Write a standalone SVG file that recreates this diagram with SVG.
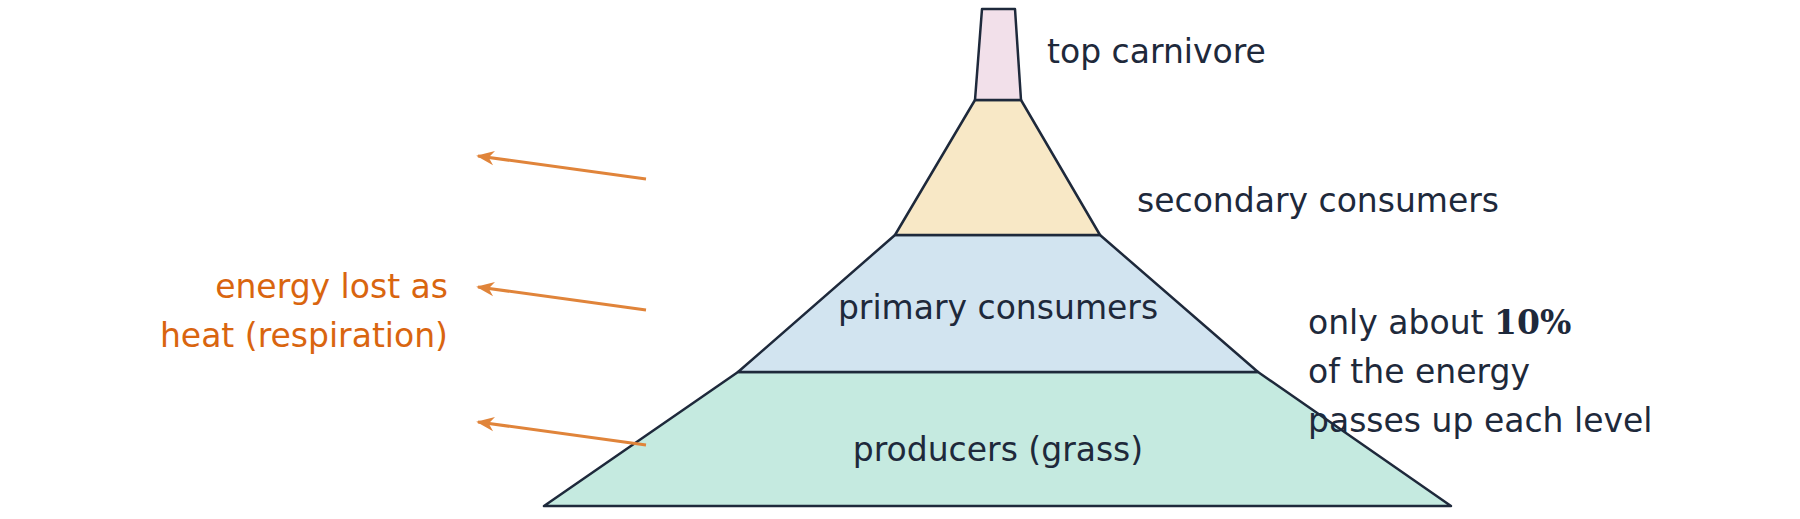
<svg xmlns="http://www.w3.org/2000/svg" width="1800" height="519" viewBox="0 0 1800 519">
<style>
.lv{stroke:#1e293b;stroke-width:2.5;stroke-linejoin:round}
.t{font-family:"DejaVu Sans",sans-serif;font-size:33px;fill:#1e293b}
.o{font-family:"DejaVu Sans",sans-serif;font-size:33px;fill:#d9650f;text-anchor:end}
.ar{stroke:#e0843a;stroke-width:3;fill:none;marker-end:url(#ah)}
</style>
<defs><marker id="ah" viewBox="0 0 10 10" refX="9" refY="5" markerWidth="6" markerHeight="6" orient="auto" markerUnits="strokeWidth"><path d="M0,1 L10,5 L0,9 L3,5 Z" fill="#e0843a"/></marker></defs>
<rect width="1800" height="519" fill="#fff"/>
<g id="producers"><polygon class="lv" fill="#c5eae0" points="544,506 1451,506 1258,372 738,372"/><text class="t" x="998" y="461" text-anchor="middle">producers (grass)</text></g>
<g id="primary"><polygon class="lv" fill="#d2e4f0" points="738,372 1258,372 1100,235 895,235"/><text class="t" x="998" y="319" text-anchor="middle">primary consumers</text></g>
<g id="secondary"><polygon class="lv" fill="#f8e8c6" points="895,235 1100,235 1021,100 975,100"/><text class="t" x="1137" y="212">secondary consumers</text></g>
<g id="top"><polygon class="lv" fill="#f2e0ea" points="975,100 1021,100 1015,9 982,9"/><text class="t" x="1047" y="63">top carnivore</text></g>
<g id="note"><text class="t" x="1308" y="334">only about <tspan font-family="'DejaVu Serif',serif" font-weight="bold">10%</tspan></text><text class="t" x="1308" y="383">of the energy</text><text class="t" x="1308" y="432">passes up each level</text></g>
<g id="heat"><text class="o" x="448" y="298">energy lost as</text><text class="o" x="448" y="347">heat (respiration)</text></g>
<g id="connectors">
<line class="ar" x1="646" y1="179" x2="478" y2="156"/>
<line class="ar" x1="646" y1="310" x2="478" y2="287"/>
<line class="ar" x1="646" y1="445" x2="478" y2="422"/>
</g>
</svg>
